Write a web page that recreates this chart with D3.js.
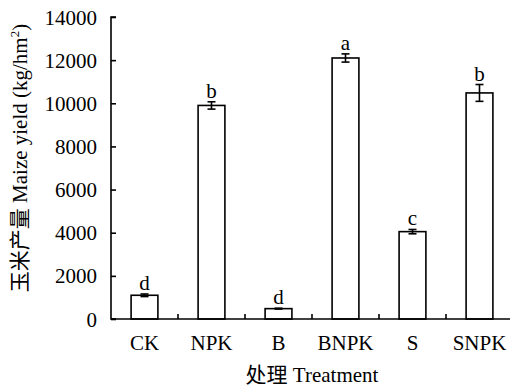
<!DOCTYPE html>
<html>
<head>
<meta charset="utf-8">
<script src="https://cdn.jsdelivr.net/npm/d3@7"></script>
<style>
  body { margin: 0; background: #fff; }
  svg text { font-family: "Liberation Serif", "Noto Sans CJK SC", serif !important; fill: #000; }
</style>
</head>
<body>
<svg id="chart" width="510" height="388"></svg>
<script>
// data
var treatments = ["CK", "NPK", "B", "BNPK", "S", "SNPK"];
var yields = [1100, 9900, 480, 12100, 4050, 10480];
var errors = [60, 170, 20, 190, 100, 390];
var letters = ["d", "b", "d", "a", "c", "b"];
var yTicks = [0, 2000, 4000, 6000, 8000, 10000, 12000, 14000];

//-----------------------------------------------------------------------

var svg = d3.select("#chart");
var plotLeft = 111, plotRight = 513, plotTop = 17, plotBottom = 319;
var fs = "21px";

var x = d3.scaleBand()
  .domain(treatments)
  .range([plotLeft, plotRight])
  .paddingInner(0.6)
  .paddingOuter(0.3);

var y = d3.scaleLinear()
  .domain([0, 14000])
  .range([plotBottom, plotTop]);

// bars
svg.selectAll("rect.bar")
  .data(treatments)
  .enter()
  .append("rect")
  .attr("class", "bar")
  .attr("x", function (d) { return x(d); })
  .attr("y", function (d, i) { return y(yields[i]); })
  .attr("width", x.bandwidth())
  .attr("height", function (d, i) { return plotBottom - y(yields[i]); })
  .attr("fill", "#fff")
  .attr("stroke", "#000")
  .attr("stroke-width", 1.6);

// error bars
var eb = svg.selectAll("g.err")
  .data(treatments)
  .enter()
  .append("g")
  .attr("class", "err")
  .attr("stroke", "#000")
  .attr("stroke-width", 1.6);

eb.append("line")
  .attr("x1", function (d) { return x(d) + x.bandwidth() / 2; })
  .attr("x2", function (d) { return x(d) + x.bandwidth() / 2; })
  .attr("y1", function (d, i) { return y(yields[i] - errors[i]); })
  .attr("y2", function (d, i) { return y(yields[i] + errors[i]); });

[-1, 1].forEach(function (s) {
  eb.append("line")
    .attr("x1", function (d) { return x(d) + x.bandwidth() / 2 - 4; })
    .attr("x2", function (d) { return x(d) + x.bandwidth() / 2 + 4; })
    .attr("y1", function (d, i) { return y(yields[i] + s * errors[i]); })
    .attr("y2", function (d, i) { return y(yields[i] + s * errors[i]); });
});

// significance letters
svg.selectAll("text.letter")
  .data(treatments)
  .enter()
  .append("text")
  .attr("class", "letter")
  .attr("x", function (d) { return x(d) + x.bandwidth() / 2; })
  .attr("y", function (d, i) { return y(yields[i] + errors[i]) - 4; })
  .attr("text-anchor", "middle")
  .style("font-size", fs)
  .text(function (d, i) { return letters[i]; });

// y axis, ticks pointing inward
var yAxis = svg.append("g")
  .attr("transform", "translate(" + plotLeft + ",0)")
  .call(d3.axisRight(y).tickValues(yTicks).tickSize(5).tickFormat(d3.format("d")));
yAxis.attr("font-family", null).attr("font-size", null);
yAxis.select(".domain").attr("d", "M5," + plotTop + "H0V" + plotBottom + "H5").attr("stroke-width", 1.6);
yAxis.selectAll(".tick line").attr("stroke-width", 1.6);
yAxis.selectAll(".tick text")
  .attr("x", -14)
  .attr("dy", "0.34em")
  .attr("text-anchor", "end")
  .style("font-size", fs);

// x axis with small ticks between categories
svg.append("line")
  .attr("x1", plotLeft).attr("x2", 510)
  .attr("y1", plotBottom).attr("y2", plotBottom)
  .attr("stroke", "#000").attr("stroke-width", 1.6);

svg.selectAll("line.sep")
  .data(treatments.slice(1))
  .enter()
  .append("line")
  .attr("class", "sep")
  .attr("x1", function (d) { return x(d) - x.step() * x.paddingInner() / 2; })
  .attr("x2", function (d) { return x(d) - x.step() * x.paddingInner() / 2; })
  .attr("y1", plotBottom)
  .attr("y2", plotBottom - 5)
  .attr("stroke", "#000")
  .attr("stroke-width", 1.6);

svg.selectAll("text.cat")
  .data(treatments)
  .enter()
  .append("text")
  .attr("class", "cat")
  .attr("x", function (d) { return x(d) + x.bandwidth() / 2; })
  .attr("y", 350)
  .attr("text-anchor", "middle")
  .style("font-size", fs)
  .text(function (d) { return d; });

// axis titles
svg.append("text")
  .attr("x", 312)
  .attr("y", 382)
  .attr("text-anchor", "middle")
  .style("font-size", fs)
  .text("处理 Treatment");

var yt = svg.append("text")
  .attr("transform", "translate(27,158) rotate(-90)")
  .attr("text-anchor", "middle")
  .style("font-size", fs);
yt.append("tspan").text("玉米产量 Maize yield (kg/hm");
yt.append("tspan").attr("dy", -8).style("font-size", "13px").text("2");
yt.append("tspan").attr("dy", 8).text(")");
</script>
</body>
</html>
